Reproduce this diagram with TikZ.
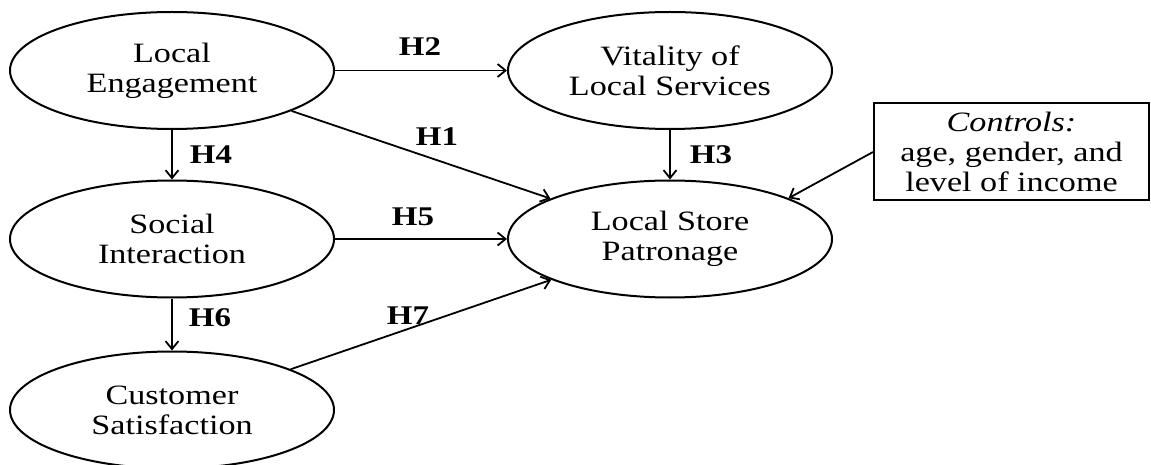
\documentclass[tikz,border=0pt]{standalone}
\usepackage{fontspec}
\setmainfont{Liberation Serif}[FakeStretch=1.22]
\usetikzlibrary{shapes.geometric,arrows.meta}
\begin{document}
\begin{tikzpicture}[x=1pt,y=-1pt,
  latent/.style={draw, ellipse, line width=2pt, minimum width=324pt, minimum height=117pt,
    inner sep=0pt, align=center, font=\fontsize{28}{30}\selectfont},
  ctrlbox/.style={draw, rectangle, line width=2pt, minimum width=275pt, minimum height=97pt,
    inner sep=0pt, align=center, font=\fontsize{28}{30}\selectfont},
  conn/.style={line width=1.8pt, -{Straight Barb[length=8pt,width=13pt,line width=1.8pt]}},
  hlab/.style={font=\fontsize{27}{28}\selectfont\bfseries, inner sep=0pt}
]
\useasboundingbox (0,0) rectangle (1151,465);

\node[latent] (LE)  at (172,70.5)  {Local\\Engagement};
\node[latent] (VLS) at (670,70.5)  {Vitality of\\Local Services};
\node[latent] (SI)  at (172,239)   {Social\\Interaction};
\node[latent] (LSP) at (670,239)   {Local Store\\Patronage};
\node[latent] (CS)  at (172,410)   {Customer\\Satisfaction};
\node[ctrlbox] (CTRL) at (1011.5,152) {\textit{Controls:}\\age, gender, and\\level of income};

\draw[conn] (LE) -- (VLS);
\draw[conn] (LE) -- (LSP);
\draw[conn] (LE) -- (SI);
\draw[conn] (VLS) -- (LSP);
\draw[conn] (SI) -- (LSP);
\draw[conn] (SI) -- (CS);
\draw[conn] (CS) -- (LSP);
\draw[conn] (CTRL.west) -- (LSP.19);

\node[hlab] (h1) at (437,137) {H1};
\node[hlab] (h2) at (420,47)  {H2};
\node[hlab] (h3) at (711,155) {H3};
\node[hlab] (h4) at (211,155) {H4};
\node[hlab] (h5) at (413,217) {H5};
\node[hlab] (h6) at (210,318) {H6};
\node[hlab] (h7) at (408,316) {H7};
\end{tikzpicture}
\end{document}
